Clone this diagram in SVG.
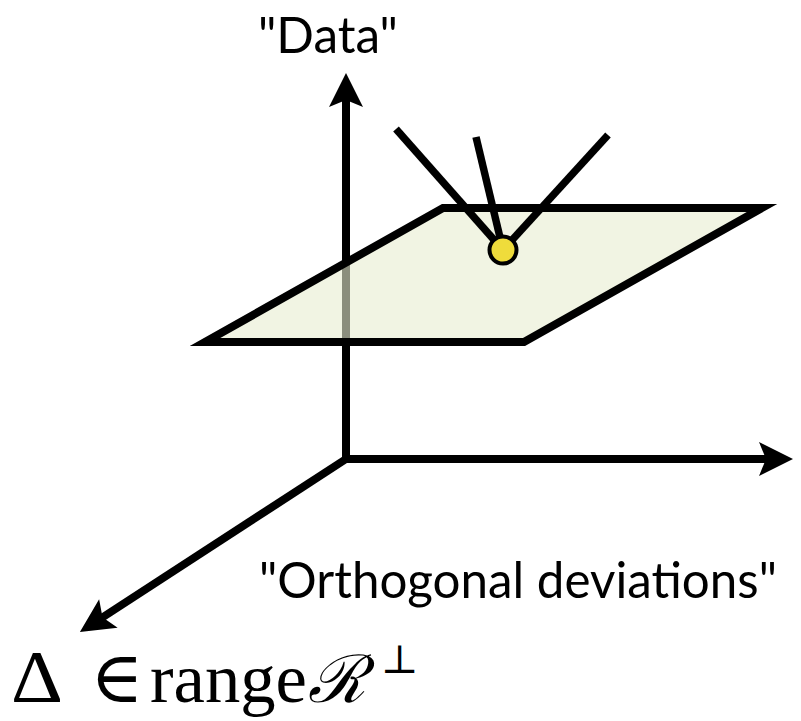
<svg xmlns="http://www.w3.org/2000/svg" width="801" height="721" viewBox="0 0 801 721">
  <style>
    .axis { fill: none; stroke: #000; stroke-width: 8; stroke-linecap: butt; }
    .ray { fill: none; stroke: #000; stroke-width: 7.5; stroke-linecap: butt; }
    .label { font-family: Lato, "Open Sans", "Liberation Sans", sans-serif; font-size: 50px; fill: #000; }
    .math { font-family: "Liberation Serif", "DejaVu Serif", serif; fill: #000; }
  </style>
  <defs>
    <marker id="arrow" viewBox="0 0 34 34" refX="10" refY="17" markerWidth="34" markerHeight="34" markerUnits="userSpaceOnUse" orient="auto" overflow="visible">
      <path d="M0,0 L34,17 L0,34 L7,17 Z" fill="#000"/>
    </marker>
  </defs>
  <rect width="801" height="721" fill="#fff"/>

  <g id="connectors">
    <line id="axis-data" class="axis" x1="346" y1="463" x2="346" y2="97" marker-end="url(#arrow)"/>
    <line id="axis-right" class="axis" x1="342" y1="459" x2="769" y2="459" marker-end="url(#arrow)"/>
    <line id="axis-orth" class="axis" x1="346" y1="459" x2="100" y2="619" marker-end="url(#arrow)"/>
  </g>

  <g id="plane">
    <polygon points="443,208 762,208 524,342 205,342" fill="rgb(231,236,208)" fill-opacity="0.6" stroke="#000" stroke-width="8" stroke-linejoin="miter" stroke-miterlimit="10"/>
  </g>

  <g id="rays">
    <line class="ray" x1="503" y1="250" x2="396" y2="129"/>
    <line class="ray" x1="503" y1="250" x2="476" y2="137"/>
    <line class="ray" x1="503" y1="250" x2="608" y2="135"/>
  </g>

  <g id="point">
    <circle cx="503" cy="250" r="13.5" fill="#efdc3b" stroke="#000" stroke-width="4"/>
  </g>

  <g id="label-data">
    <text class="label" x="258" y="53" textLength="140" lengthAdjust="spacingAndGlyphs">"Data"</text>
  </g>

  <g id="label-orth">
    <text class="label" x="259" y="598" textLength="518" lengthAdjust="spacingAndGlyphs">"Orthogonal deviations"</text>
  </g>

  <g id="label-math">
    <text class="math" font-size="74" x="11" y="702" textLength="52" lengthAdjust="spacingAndGlyphs">Δ</text>
    <text class="math" font-size="72" x="90" y="702">∈</text>
    <text class="math" font-size="70" x="150" y="702" textLength="157" lengthAdjust="spacingAndGlyphs">range</text>
    <text class="math" font-size="66" font-style="italic" x="308" y="702" font-family="'DejaVu Serif', 'DejaVu Sans', serif">ℛ</text>
    <text class="math" font-size="40" x="381" y="673" font-family="'DejaVu Sans', 'DejaVu Serif', serif">⊥</text>
  </g>
</svg>
